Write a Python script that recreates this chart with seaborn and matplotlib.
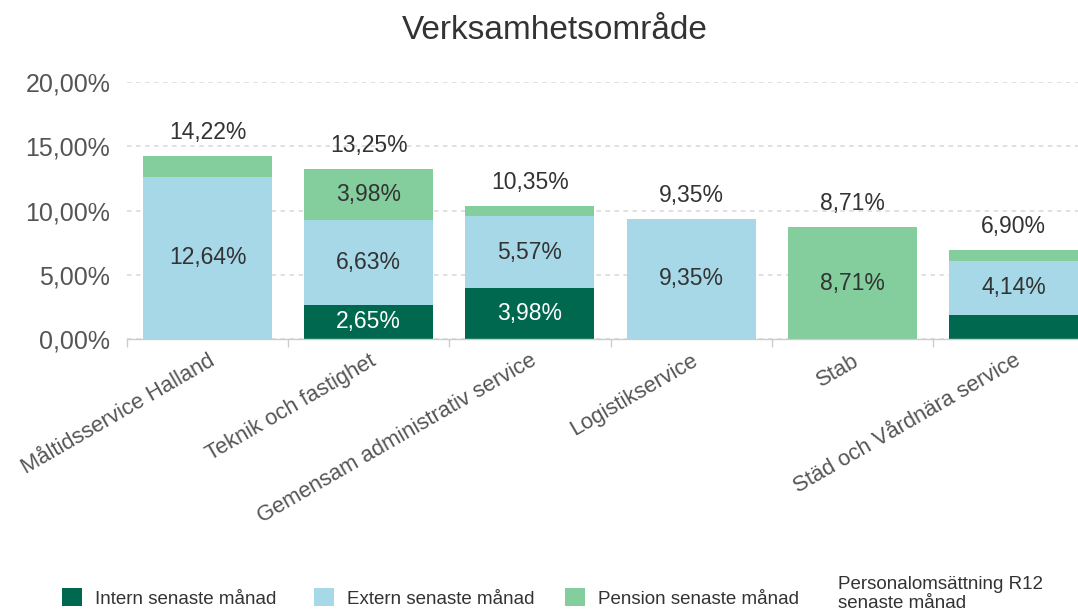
import numpy as np
import pandas as pd
import seaborn as sns
import matplotlib
matplotlib.use("Agg")
import matplotlib.pyplot as plt
from matplotlib.patches import Patch
from matplotlib.lines import Line2D
from matplotlib.ticker import FuncFormatter, FixedLocator

categories = ["Måltidsservice Halland", "Teknik och fastighet", "Gemensam administrativ service",
              "Logistikservice", "Stab", "Städ och Vårdnära service"]
intern = [0.00, 2.65, 3.98, 0.00, 0.00, 1.90]
extern = [12.64, 6.63, 5.57, 9.35, 0.00, 4.14]
pension = [1.58, 3.98, 0.80, 0.00, 8.71, 0.86]
totals = [14.22, 13.25, 10.35, 9.35, 8.71, 6.90]
series_names = ["Intern senaste månad", "Extern senaste månad", "Pension senaste månad"]
total_name = "Personalomsättning R12\nsenaste månad"
yticks = [0, 5, 10, 15, 20]

colors = ["#00684f", "#a6d8e7", "#84cd9d"]
label_colors = ["white", "#333333", "#333333"]

sns.set_theme(style="white")
plt.rcParams["font.family"] = ["Liberation Sans", "DejaVu Sans"]

fig = plt.figure(figsize=(10.78, 6.16), dpi=100)
ax = fig.add_axes([127/1078, (616-339)/616, (1078-127)/1078, (339-82)/616])

bottom = np.zeros(len(categories))
for name, vals, col, lc in zip(series_names, [intern, extern, pension], colors, label_colors):
    vals = np.array(vals)
    sns.barplot(x=categories, y=vals, bottom=bottom, color=col, width=0.8, ax=ax,
                edgecolor="none", linewidth=0, saturation=1)
    for i, v in enumerate(vals):
        if v >= 2:
            ax.text(i, bottom[i] + v / 2, f"{v:.2f}%".replace(".", ","), ha="center", va="center",
                    fontsize=16.5, color=lc)
    bottom = bottom + vals

for i, t in enumerate(totals):
    ax.annotate(f"{t:.2f}%".replace(".", ","), xy=(i, t), xytext=(0, 17), textcoords="offset points",
                ha="center", va="center", fontsize=16.5, color="#333333")

ax.set_xlim(-0.5, 5.4)
ax.set_ylim(0, 20)
ax.yaxis.set_major_locator(FixedLocator(yticks))
ax.yaxis.set_major_formatter(FuncFormatter(lambda v, p: f"{v:.2f}%".replace(".", ",")))
ax.tick_params(axis="y", length=0, labelsize=18, labelcolor="#555555", pad=12)
ax.grid(axis="y", color="#dddddd", linestyle=(0, (2.5, 2.5)), linewidth=1.3)
ax.set_axisbelow(True)
for s in ["top", "right", "left"]:
    ax.spines[s].set_visible(False)
ax.spines["bottom"].set_color("#cccccc")
ax.spines["bottom"].set_linewidth(1)

ax.set_xticks(range(len(categories)))
ax.set_xticklabels(categories, rotation=30, ha="right", rotation_mode="anchor",
                   fontsize=15.8, color="#555555")
ax.tick_params(axis="x", which="major", length=0, pad=8)
ax.set_xticks(np.arange(-0.5, len(categories) - 0.5, 1), minor=True)
ax.tick_params(axis="x", which="minor", length=6, color="#cccccc", width=1, bottom=True)
ax.set_xlabel("")
ax.set_ylabel("")

fig.text(0.515, 0.951, "Verksamhetsområde", ha="center", va="center", fontsize=24, color="#333333")

handles = [Patch(facecolor=c, edgecolor="none") for c in colors]
legend_x = [62, 314, 565]
for h, lab, x in zip(handles, series_names, legend_x):
    fig.legend([h], [lab], loc="center left", bbox_to_anchor=(x / 1078, 1 - 598 / 616),
               frameon=False, fontsize=13.5, handlelength=1.07, handleheight=1.07,
               handletextpad=0.7, borderpad=0, borderaxespad=0, labelcolor="#333333")
fig.legend([Line2D([], [], color="none")], [total_name], loc="center left",
           bbox_to_anchor=(838 / 1078, 1 - 594 / 616), frameon=False, fontsize=13.5,
           handlelength=0, handletextpad=0, borderpad=0, borderaxespad=0, labelcolor="#333333",
           labelspacing=0)

fig.savefig("out.png", dpi=100)
